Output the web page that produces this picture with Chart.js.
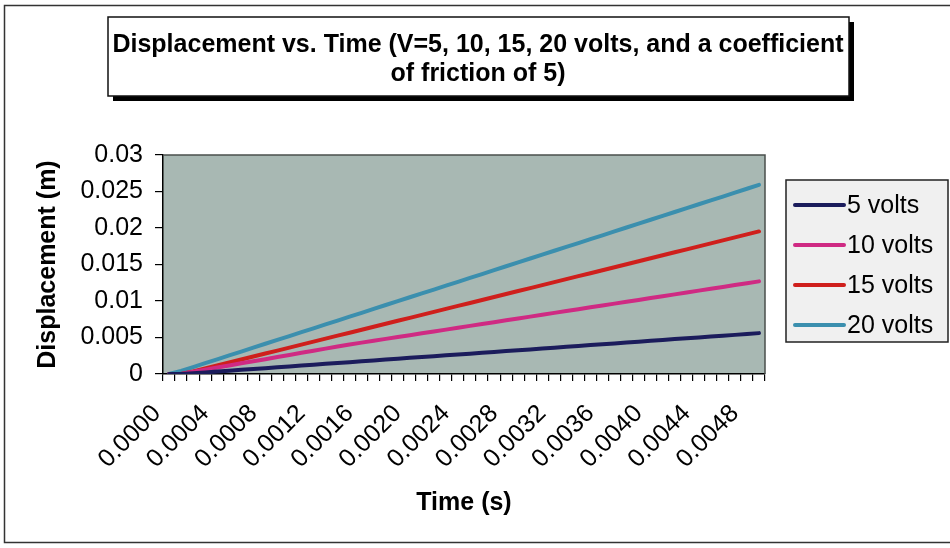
<!DOCTYPE html>
<html>
<head>
<meta charset="utf-8">
<script src="https://cdn.jsdelivr.net/npm/chart.js@4.4.1/dist/chart.umd.min.js"></script>
<style>
  html, body { margin: 0; padding: 0; background: #fff; }
  #wrap { width: 950px; height: 548px; }
</style>
</head>
<body>
<div id="wrap"><canvas id="chart" width="950" height="548"></canvas></div>
<script>
// time axis categories (s)
const times = [
  "0.0000", "0.0001", "0.0002", "0.0003", "0.0004", "0.0005", "0.0006", "0.0007", "0.0008", "0.0009",
  "0.0010", "0.0011", "0.0012", "0.0013", "0.0014", "0.0015", "0.0016", "0.0017", "0.0018", "0.0019",
  "0.0020", "0.0021", "0.0022", "0.0023", "0.0024", "0.0025", "0.0026", "0.0027", "0.0028", "0.0029",
  "0.0030", "0.0031", "0.0032", "0.0033", "0.0034", "0.0035", "0.0036", "0.0037", "0.0038", "0.0039",
  "0.0040", "0.0041", "0.0042", "0.0043", "0.0044", "0.0045", "0.0046", "0.0047", "0.0048", "0.0049"
];
const shownTimes = ["0.0000", "0.0004", "0.0008", "0.0012", "0.0016", "0.0020", "0.0024",
  "0.0028", "0.0032", "0.0036", "0.0040", "0.0044", "0.0048"];

// displacement (m)
const volts5 = [
  0, 0, 0.00010, 0.00022, 0.00033, 0.00045, 0.00057, 0.00069, 0.00080, 0.00092,
  0.00104, 0.00115, 0.00127, 0.00139, 0.00150, 0.00162, 0.00174, 0.00185, 0.00197, 0.00209,
  0.00221, 0.00232, 0.00244, 0.00256, 0.00267, 0.00279, 0.00291, 0.00302, 0.00314, 0.00326,
  0.00337, 0.00349, 0.00361, 0.00373, 0.00384, 0.00396, 0.00408, 0.00419, 0.00431, 0.00443,
  0.00454, 0.00466, 0.00478, 0.00489, 0.00501, 0.00513, 0.00525, 0.00536, 0.00548, 0.00560
];
const volts10 = [
  0, 0, 0.00030, 0.00059, 0.00088, 0.00117, 0.00146, 0.00175, 0.00203, 0.00232,
  0.00261, 0.00290, 0.00319, 0.00348, 0.00377, 0.00405, 0.00430, 0.00456, 0.00481, 0.00507,
  0.00532, 0.00557, 0.00583, 0.00608, 0.00634, 0.00659, 0.00684, 0.00710, 0.00735, 0.00761,
  0.00786, 0.00811, 0.00837, 0.00862, 0.00888, 0.00913, 0.00938, 0.00964, 0.00989, 0.01015,
  0.01040, 0.01065, 0.01091, 0.01116, 0.01142, 0.01167, 0.01192, 0.01218, 0.01243, 0.01269
];
const volts15 = [
  0, 0, 0.00035, 0.00076, 0.00117, 0.00157, 0.00198, 0.00239, 0.00280, 0.00321,
  0.00361, 0.00402, 0.00443, 0.00484, 0.00525, 0.00565, 0.00606, 0.00647, 0.00688, 0.00729,
  0.00769, 0.00810, 0.00851, 0.00892, 0.00933, 0.00973, 0.01014, 0.01055, 0.01096, 0.01137,
  0.01177, 0.01218, 0.01259, 0.01300, 0.01341, 0.01381, 0.01422, 0.01463, 0.01504, 0.01545,
  0.01585, 0.01626, 0.01667, 0.01708, 0.01749, 0.01789, 0.01830, 0.01871, 0.01912, 0.01953
];
const volts20 = [
  0, 0.00042, 0.00095, 0.00148, 0.00201, 0.00254, 0.00307, 0.00361, 0.00414, 0.00467,
  0.00520, 0.00573, 0.00626, 0.00679, 0.00732, 0.00785, 0.00838, 0.00892, 0.00945, 0.00998,
  0.01051, 0.01104, 0.01157, 0.01210, 0.01263, 0.01316, 0.01369, 0.01423, 0.01476, 0.01529,
  0.01582, 0.01635, 0.01688, 0.01741, 0.01794, 0.01847, 0.01900, 0.01954, 0.02007, 0.02060,
  0.02113, 0.02166, 0.02219, 0.02272, 0.02325, 0.02378, 0.02431, 0.02485, 0.02538, 0.02591
];

const seriesNames = ["5 volts", "10 volts", "15 volts", "20 volts"];
const seriesColors = ["#1b1c5c", "#cf2a83", "#cf1f1c", "#3b8fae"];

const titleLines = ["Displacement vs. Time (V=5, 10, 15, 20 volts, and a coefficient", "of friction of 5)"];

const FONT = "'Liberation Sans', Arial, Helvetica, sans-serif";

// frame, title box and plot background (drawn before the axes)
const backdrop = {
    id: "backdrop",
    beforeDraw(chart) {
        const { ctx, chartArea: a } = chart;
        ctx.save();
        ctx.fillStyle = "#fff";
        ctx.fillRect(0, 0, chart.width, chart.height);

        ctx.strokeStyle = "#333";
        ctx.lineWidth = 1.5;
        ctx.strokeRect(4.5, 5.5, 960, 537);

        // title box with shadow
        ctx.fillStyle = "#000";
        ctx.fillRect(113, 22, 741, 79);
        ctx.fillStyle = "#fff";
        ctx.fillRect(108, 17, 741, 79);
        ctx.strokeStyle = "#111";
        ctx.lineWidth = 1.5;
        ctx.strokeRect(108, 17, 741, 79);

        ctx.fillStyle = "#000";
        ctx.font = "bold 25px " + FONT;
        ctx.textAlign = "center";
        ctx.textBaseline = "alphabetic";
        ctx.fillText(titleLines[0], 478, 52);
        ctx.fillText(titleLines[1], 478, 81);

        ctx.fillStyle = "#a8b8b3";
        ctx.fillRect(a.left, a.top, a.right - a.left, a.bottom - a.top);
        ctx.restore();
    },
    afterDatasetsDraw(chart) {
        const { ctx, chartArea: a } = chart;
        ctx.save();
        ctx.strokeStyle = "#4a4f4c";
        ctx.lineWidth = 1.5;
        ctx.beginPath();
        ctx.moveTo(a.left, a.top);
        ctx.lineTo(a.right, a.top);
        ctx.lineTo(a.right, a.bottom);
        ctx.stroke();
        ctx.restore();
    },
};

// legend box on the right
const sideLegend = {
    id: "sideLegend",
    afterDraw(chart) {
        const { ctx } = chart;
        ctx.save();
        ctx.fillStyle = "#f0f0f0";
        ctx.fillRect(786, 180, 162, 162);
        ctx.strokeStyle = "#222";
        ctx.lineWidth = 1.5;
        ctx.strokeRect(786, 180, 162, 162);
        ctx.font = "25px " + FONT;
        ctx.textBaseline = "middle";
        ctx.textAlign = "left";
        chart.data.datasets.forEach((ds, i) => {
            const y = 205 + i * 40;
            ctx.strokeStyle = ds.borderColor;
            ctx.lineWidth = 4;
            ctx.lineCap = "round";
            ctx.beginPath();
            ctx.moveTo(795, y);
            ctx.lineTo(844, y);
            ctx.stroke();
            ctx.fillStyle = "#000";
            ctx.fillText(ds.label, 847, y + 1);
        });
        ctx.restore();
    },
};

const seriesData = [volts5, volts10, volts15, volts20];

new Chart(document.getElementById("chart").getContext("2d"), {
    type: "line",
    data: {
        labels: times,
        datasets: seriesData.map((vals, i) => ({
            label: seriesNames[i],
            data: vals,
            borderColor: seriesColors[i],
            backgroundColor: seriesColors[i],
            borderWidth: 4,
            borderCapStyle: "round",
            borderJoinStyle: "round",
            pointRadius: 0,
            tension: 0,
            fill: false,
        })),
    },
    options: {
        responsive: false,
        animation: false,
        events: [],
        layout: { padding: { left: 0, top: 155, right: 185, bottom: 0 } },
        plugins: {
            legend: { display: false },
            title: { display: false },
            tooltip: { enabled: false },
        },
        scales: {
            x: {
                type: "category",
                offset: true,
                afterFit: (scale) => { scale.height = 174; },
                grid: {
                    offset: true,
                    drawOnChartArea: false,
                    tickLength: 7,
                    color: "#000",
                    lineWidth: 1.2,
                },
                border: { color: "#000", width: 1.5 },
                ticks: {
                    autoSkip: false,
                    maxRotation: 45,
                    minRotation: 45,
                    padding: 18,
                    labelOffset: -12,
                    color: "#000",
                    font: { family: FONT, size: 25 },
                    callback(value) {
                        const lbl = this.getLabelForValue(value);
                        return shownTimes.includes(lbl) ? lbl : "";
                    },
                },
                title: {
                    display: true,
                    text: "Time (s)",
                    color: "#000",
                    font: { family: FONT, size: 25, weight: "bold" },
                    padding: { top: 0, bottom: 30 },
                },
            },
            y: {
                min: 0,
                max: 0.03,
                afterFit: (scale) => { scale.width = 163; },
                grid: {
                    drawOnChartArea: false,
                    tickLength: 8,
                    color: "#000",
                    lineWidth: 1.2,
                },
                border: { color: "#000", width: 1.5 },
                ticks: {
                    stepSize: 0.005,
                    padding: 12,
                    color: "#000",
                    font: { family: FONT, size: 25 },
                    callback: (v) => String(+v.toFixed(3)),
                },
                title: {
                    display: true,
                    text: "Displacement (m)",
                    color: "#000",
                    font: { family: FONT, size: 25, weight: "bold" },
                    padding: { top: 33, bottom: 0 },
                },
            },
        },
    },
    plugins: [backdrop, sideLegend],
});
</script>
</body>
</html>
